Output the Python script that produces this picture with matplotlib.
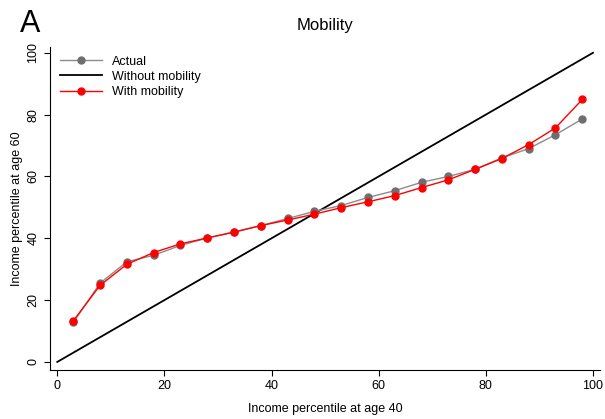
import matplotlib
matplotlib.use("Agg")
import matplotlib.pyplot as plt
import numpy as np

plt.rcParams["font.family"] = ["Liberation Sans", "DejaVu Sans"]

# data
pct40 = [3, 8, 13, 18, 23, 28, 33, 38, 43, 48, 53, 58, 63, 68, 73, 78, 83, 88, 93, 98]
actual = [12.8, 25.5, 32.4, 34.5, 37.7, 40.1, 42.0, 44.1, 46.4, 48.7,
          50.6, 53.2, 55.4, 58.1, 60.0, 62.3, 66.0, 69.0, 73.5, 78.6]
with_mob = [13.3, 24.8, 31.6, 35.4, 38.2, 40.1, 42.0, 44.1, 45.9, 47.8,
            49.9, 51.8, 53.8, 56.4, 58.9, 62.3, 65.8, 70.3, 75.7, 84.9]
no_mob_x = [0, 100]
no_mob_y = [0, 100]
ticks = [0, 20, 40, 60, 80, 100]

fig = plt.figure(figsize=(6.05, 4.19), dpi=100)
ax = fig.add_axes([0.0826, 0.117, 0.909, 0.771])

ax.plot(pct40, actual, "-o", color="#8c8c8c", mfc="#6e6e6e", mec="#6e6e6e",
        lw=1.0, ms=5, label="Actual", zorder=3)
ax.plot(no_mob_x, no_mob_y, "-", color="black", lw=1.3, label="Without mobility", zorder=2)
ax.plot(pct40, with_mob, "-o", color="red", lw=1.0, ms=5, label="With mobility", zorder=4)

ax.set_xlim(-1.36, 101.3)
ax.set_ylim(-2.6, 101.9)
ax.set_xticks(ticks)
ax.set_yticks(ticks)
ax.tick_params(direction="out", length=4, width=0.8, labelsize=9)
for lab in ax.get_yticklabels():
    lab.set_rotation(90)
    lab.set_va("center")
for s in ["top", "right"]:
    ax.spines[s].set_visible(False)
ax.spines["left"].set_linewidth(0.8)
ax.spines["bottom"].set_linewidth(0.8)

ax.set_xlabel("Income percentile at age 40", fontsize=9)
ax.xaxis.set_label_coords(0.5, -0.102)
ax.set_ylabel("Income percentile at age 60", fontsize=9, labelpad=3)

ax.legend(loc="upper left", frameon=False, fontsize=9, handlelength=3.4,
          handletextpad=0.8, labelspacing=0.25, borderaxespad=0.3,
          bbox_to_anchor=(0.002, 1.0))

fig.text(0.537, 0.94, "Mobility", ha="center", va="center", fontsize=12)
fig.text(0.033, 0.943, "A", ha="left", va="center", fontsize=22)

fig.savefig("out.png", dpi=100)
